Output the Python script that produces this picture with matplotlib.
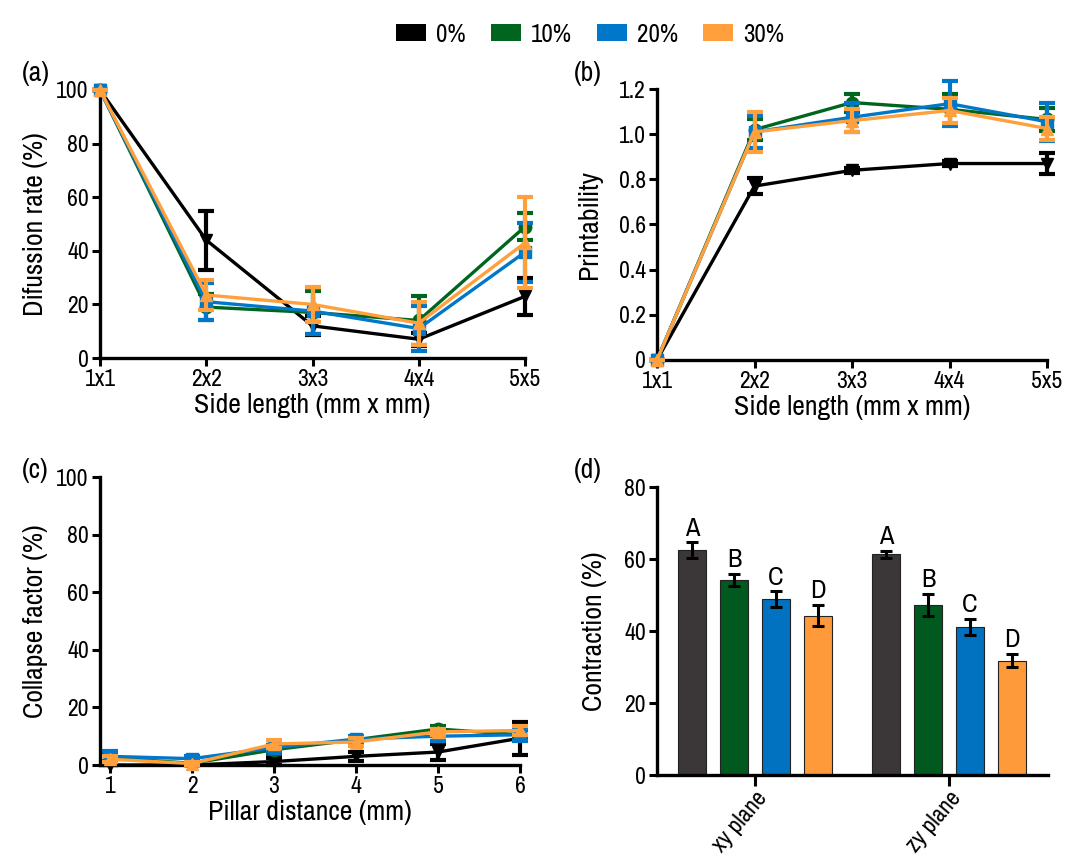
import matplotlib
matplotlib.use("Agg")
import matplotlib.pyplot as plt
from matplotlib import font_manager
import numpy as np
from matplotlib.patches import Patch

# pick a narrow sans if one is installed, otherwise Lato
narrow = [f.name for f in font_manager.fontManager.ttflist
          if "Narrow" in f.name or "Condensed" in f.name
          or (f.name == "Liberation Sans" and f.stretch in ("condensed", 300, "semi-condensed"))]
FONT_NAME = narrow[0] if narrow else "Lato"
plt.rcParams['font.family'] = [FONT_NAME, 'Lato', 'DejaVu Sans']
plt.rcParams['font.stretch'] = 'condensed' if narrow else 'normal'

GROUPS = ["0%", "10%", "20%", "30%"]
COLORS = ["black", "#00661f", "#0077c8", "#ffa03c"]
BAR_COLORS = ["#3b3739", "#005a1f", "#0072bf", "#ff9a3a"]
MARKERS = ["v", "o", "s", "^"]

# (a) diffusion rate
SIDE = ["1x1", "2x2", "3x3", "4x4", "5x5"]
diff_mean = {
    "0%":  [100, 44, 12, 7, 23],
    "10%": [100, 19, 17, 14, 49],
    "20%": [100, 21, 17.5, 11, 39.5],
    "30%": [100, 23.5, 20, 13, 43],
}
diff_err = {
    "0%":  [0, 11, 3.5, 2.5, 7],
    "10%": [0, 5, 8, 9, 5],
    "20%": [0, 7, 8.5, 8.5, 11],
    "30%": [0, 5.5, 6.5, 8, 17],
}

# (b) printability
print_mean = {
    "0%":  [0, 0.77, 0.84, 0.87, 0.87],
    "10%": [0, 1.02, 1.14, 1.11, 1.065],
    "20%": [0, 1.01, 1.075, 1.135, 1.055],
    "30%": [0, 1.01, 1.06, 1.105, 1.025],
}
print_err = {
    "0%":  [0, 0.035, 0.012, 0.012, 0.045],
    "10%": [0, 0.045, 0.04, 0.07, 0.05],
    "20%": [0, 0.07, 0.065, 0.1, 0.085],
    "30%": [0, 0.09, 0.05, 0.055, 0.05],
}

# (c) collapse factor
PILLAR = [1, 2, 3, 4, 5, 6]
coll_mean = {
    "0%":  [0, 0, 1.2, 3, 4.5, 9.3],
    "10%": [2.5, 0.6, 5.3, 8.8, 12.5, 10.5],
    "20%": [3, 2.2, 6, 9, 10, 10.5],
    "30%": [2, 0.5, 7.3, 8, 11.5, 12],
}
coll_err = {
    "0%":  [0, 0, 1.2, 1.5, 2.7, 5.7],
    "10%": [1, 0.5, 1.5, 1, 1, 1.5],
    "20%": [2, 0.8, 1, 1, 1.5, 2],
    "30%": [1, 0.5, 1.5, 1.5, 1, 1.5],
}

# (d) contraction
PLANES = ["xy plane", "zy plane"]
contr_mean = {
    "0%":  [62.4, 61.3],
    "10%": [54.2, 47.2],
    "20%": [48.8, 41.2],
    "30%": [44.3, 31.8],
}
contr_err = {
    "0%":  [2.2, 1.0],
    "10%": [1.6, 3.0],
    "20%": [2.2, 2.2],
    "30%": [3.0, 1.8],
}
LETTERS = ["A", "B", "C", "D"]

if narrow:
    TICK_FS, LABEL_FS, LET_FS = 17, 20, 19
else:
    TICK_FS, LABEL_FS, LET_FS = 14, 17, 16


def style_axes(ax):
    for s in ["top", "right"]:
        ax.spines[s].set_visible(False)
    for s in ["left", "bottom"]:
        ax.spines[s].set_linewidth(2.4)
    ax.tick_params(width=2.2, length=6, labelsize=TICK_FS, pad=2)


def line_panel(ax, x, means, errs, zorders):
    for g, c, m, z in zip(GROUPS, COLORS, MARKERS, zorders):
        ax.errorbar(x, means[g], yerr=errs[g], color=c, marker=m, markersize=9,
                    lw=2.4, elinewidth=3, capsize=6, capthick=3, zorder=z,
                    clip_on=False)


fig = plt.figure(figsize=(10.75, 8.63), dpi=100)
zord = [2, 3, 4, 5]

# (a)
ax_a = fig.add_axes([100 / 1075, 1 - 358 / 863, 425 / 1075, 268 / 863])
xs = np.arange(len(SIDE))
line_panel(ax_a, xs, diff_mean, diff_err, zord)
ax_a.set_xlim(0, 4)
ax_a.set_ylim(0, 100)
ax_a.set_xticks(xs)
ax_a.set_xticklabels(SIDE)
ax_a.set_yticks(range(0, 101, 20))
ax_a.set_xlabel("Side length (mm x mm)", fontsize=LABEL_FS, labelpad=2)
ax_a.set_ylabel("Difussion rate (%)", fontsize=LABEL_FS, labelpad=6)
style_axes(ax_a)

# (b)
ax_b = fig.add_axes([657 / 1075, 1 - 360 / 863, 390 / 1075, 271 / 863])
line_panel(ax_b, xs, print_mean, print_err, zord)
ax_b.set_xlim(0, 4)
ax_b.set_ylim(0, 1.2)
ax_b.set_xticks(xs)
ax_b.set_xticklabels(SIDE)
ax_b.set_yticks([0, 0.2, 0.4, 0.6, 0.8, 1.0, 1.2])
ax_b.set_yticklabels(["0", "0.2", "0.4", "0.6", "0.8", "1.0", "1.2"])
ax_b.set_xlabel("Side length (mm x mm)", fontsize=LABEL_FS, labelpad=2)
ax_b.set_ylabel("Printability", fontsize=LABEL_FS, labelpad=12)
style_axes(ax_b)

# (c)
ax_c = fig.add_axes([100 / 1075, 1 - 765 / 863, 420 / 1075, 288 / 863])
line_panel(ax_c, PILLAR, coll_mean, coll_err, zord)
ax_c.set_xlim(0.878, 6)
ax_c.set_ylim(0, 100)
ax_c.set_xticks(PILLAR)
ax_c.set_yticks(range(0, 101, 20))
ax_c.set_xlabel("Pillar distance (mm)", fontsize=LABEL_FS, labelpad=2)
ax_c.set_ylabel("Collapse factor (%)", fontsize=LABEL_FS, labelpad=6)
style_axes(ax_c)

# (d)
ax_d = fig.add_axes([657 / 1075, 1 - 775 / 863, 391 / 1075, 288 / 863])
gx = np.arange(len(PLANES))
step = 0.2165
for i, (g, c) in enumerate(zip(GROUPS, BAR_COLORS)):
    pos = gx + (i - 1.5) * step
    ax_d.bar(pos, contr_mean[g], width=0.148, color=c, edgecolor="#222222",
             linewidth=0.8, zorder=2)
    ax_d.errorbar(pos, contr_mean[g], yerr=contr_err[g], fmt="none",
                  ecolor="black", elinewidth=2.2, capsize=4, capthick=2.2, zorder=3)
    for p, mval, e in zip(pos, contr_mean[g], contr_err[g]):
        ax_d.text(p, mval + e + 0.8, LETTERS[i], ha="center", va="bottom",
                  fontsize=LET_FS)
ax_d.set_xlim(-0.505, 1.51)
ax_d.set_ylim(0, 80)
ax_d.set_xticks(gx)
ax_d.set_xticklabels(PLANES, rotation=50, ha="right", rotation_mode="anchor")
ax_d.set_yticks(range(0, 81, 20))
ax_d.set_ylabel("Contraction (%)", fontsize=LABEL_FS, labelpad=12)
style_axes(ax_d)
ax_d.tick_params(axis="x", labelsize=LABEL_FS - 3, length=8, pad=1)

# panel letters
for txt, x, y in [("(a)", 22, 73), ("(b)", 574, 73), ("(c)", 22, 470), ("(d)", 574, 470)]:
    fig.text(x / 1075, 1 - y / 863, txt, fontsize=LABEL_FS, ha="left", va="center")

# legend
handles = [Patch(facecolor=c, edgecolor="none") for c in COLORS]
fig.legend(handles, GROUPS, loc="upper center", bbox_to_anchor=(0.549, 1.0),
           ncol=4, frameon=False, fontsize=TICK_FS + 1, handlelength=1.2,
           handleheight=0.65, columnspacing=1.0, handletextpad=0.4)

fig.savefig("out.png", dpi=100)
